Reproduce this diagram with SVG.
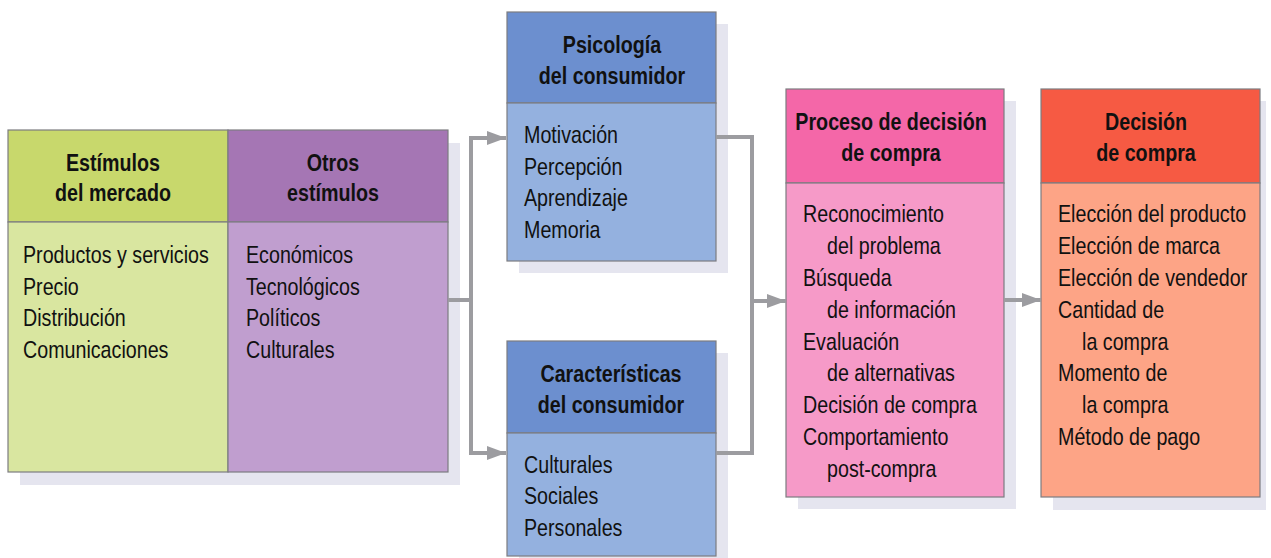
<svg xmlns="http://www.w3.org/2000/svg" width="1271" height="558" viewBox="0 0 1271 558">
<style>
.sh{fill:#e5e5ef}
.bx{stroke:#7c7c80;stroke-width:1.2}
.h{font-family:"Liberation Sans",Arial,sans-serif;font-weight:bold;font-size:24px;fill:#111;text-anchor:middle}
.b{font-family:"Liberation Sans",Arial,sans-serif;font-size:24px;fill:#111}
.c{fill:none;stroke:#9c9ca0;stroke-width:4}
</style>
<defs>
<marker id="ah" markerUnits="userSpaceOnUse" markerWidth="19" markerHeight="14" refX="19" refY="7" orient="auto">
<path d="M0,0 L19,7 L0,14 z" fill="#9c9ca0"/>
</marker>
</defs>
<rect width="1271" height="558" fill="#fff"/>

<g id="estimulos-mercado">
<rect class="sh" x="20" y="143" width="220" height="342"/>
<rect class="bx" x="8" y="130" width="220" height="92" fill="#c8d86c"/>
<rect class="bx" x="8" y="222" width="220" height="250" fill="#d9e6a0"/>
<text class="h" transform="translate(113,171) scale(0.82,1)"><tspan x="0" y="0">Estímulos</tspan><tspan x="0" y="30">del mercado</tspan></text>
<text class="b" transform="translate(23,263) scale(0.82,1)"><tspan x="0" y="0">Productos y servicios</tspan><tspan x="0" y="31.7">Precio</tspan><tspan x="0" y="63.4">Distribución</tspan><tspan x="0" y="95.1">Comunicaciones</tspan></text>
</g>

<g id="otros-estimulos">
<rect class="sh" x="240" y="143" width="220" height="342"/>
<rect class="bx" x="228" y="130" width="220" height="92" fill="#a576b4"/>
<rect class="bx" x="228" y="222" width="220" height="250" fill="#c09ecf"/>
<text class="h" transform="translate(333,171) scale(0.82,1)"><tspan x="0" y="0">Otros</tspan><tspan x="0" y="30">estímulos</tspan></text>
<text class="b" transform="translate(246,263) scale(0.82,1)"><tspan x="0" y="0">Económicos</tspan><tspan x="0" y="31.7">Tecnológicos</tspan><tspan x="0" y="63.4">Políticos</tspan><tspan x="0" y="95.1">Culturales</tspan></text>
</g>

<g id="psicologia">
<rect class="sh" x="519" y="24" width="209" height="249"/>
<rect class="bx" x="507" y="12" width="209" height="91" fill="#6c8fcf"/>
<rect class="bx" x="507" y="103" width="209" height="158" fill="#94b1df"/>
<text class="h" transform="translate(612,53) scale(0.82,1)"><tspan x="0" y="0">Psicología</tspan><tspan x="0" y="31">del consumidor</tspan></text>
<text class="b" transform="translate(524,143) scale(0.82,1)"><tspan x="0" y="0">Motivación</tspan><tspan x="0" y="31.7">Percepción</tspan><tspan x="0" y="63.4">Aprendizaje</tspan><tspan x="0" y="95.1">Memoria</tspan></text>
</g>

<g id="caracteristicas">
<rect class="sh" x="519" y="353" width="209" height="215"/>
<rect class="bx" x="507" y="341" width="209" height="92" fill="#6c8fcf"/>
<rect class="bx" x="507" y="433" width="209" height="123" fill="#94b1df"/>
<text class="h" transform="translate(611,382) scale(0.82,1)"><tspan x="0" y="0">Características</tspan><tspan x="0" y="31">del consumidor</tspan></text>
<text class="b" transform="translate(524,473) scale(0.82,1)"><tspan x="0" y="0">Culturales</tspan><tspan x="0" y="31.5">Sociales</tspan><tspan x="0" y="63">Personales</tspan></text>
</g>

<g id="proceso">
<rect class="sh" x="798" y="101" width="218" height="408"/>
<rect class="bx" x="786" y="89" width="218" height="94" fill="#f467a8"/>
<rect class="bx" x="786" y="183" width="218" height="314" fill="#f69ac8"/>
<text class="h" transform="translate(891,130) scale(0.82,1)"><tspan x="0" y="0">Proceso de decisión</tspan><tspan x="0" y="31">de compra</tspan></text>
<text class="b" transform="translate(803,222) scale(0.82,1)"><tspan x="0" y="0">Reconocimiento</tspan><tspan x="29.3" y="31.9">del problema</tspan><tspan x="0" y="63.8">Búsqueda</tspan><tspan x="29.3" y="95.7">de información</tspan><tspan x="0" y="127.6">Evaluación</tspan><tspan x="29.3" y="159.5">de alternativas</tspan><tspan x="0" y="191.4">Decisión de compra</tspan><tspan x="0" y="223.3">Comportamiento</tspan><tspan x="29.3" y="255.2">post-compra</tspan></text>
</g>

<g id="decision">
<rect class="sh" x="1053" y="101" width="213" height="409"/>
<rect class="bx" x="1041" y="89" width="219" height="94" fill="#f65a43"/>
<rect class="bx" x="1041" y="183" width="219" height="314" fill="#fda486"/>
<text class="h" transform="translate(1146,130) scale(0.82,1)"><tspan x="0" y="0">Decisión</tspan><tspan x="0" y="31">de compra</tspan></text>
<text class="b" transform="translate(1058,222) scale(0.82,1)"><tspan x="0" y="0">Elección del producto</tspan><tspan x="0" y="31.9">Elección de marca</tspan><tspan x="0" y="63.8">Elección de vendedor</tspan><tspan x="0" y="95.7">Cantidad de</tspan><tspan x="29.3" y="127.6">la compra</tspan><tspan x="0" y="159.5">Momento de</tspan><tspan x="29.3" y="191.4">la compra</tspan><tspan x="0" y="223.3">Método de pago</tspan></text>
</g>

<g id="connectors">
<path class="c" d="M448,300 H471"/>
<path class="c" d="M471,138 V453"/>
<path class="c" d="M469,138 H506" marker-end="url(#ah)"/>
<path class="c" d="M469,453 H506" marker-end="url(#ah)"/>
<path class="c" d="M716,137 H752 V453 H716"/>
<path class="c" d="M752,301 H786" marker-end="url(#ah)"/>
<path class="c" d="M1004,300 H1041" marker-end="url(#ah)"/>
</g>
</svg>
